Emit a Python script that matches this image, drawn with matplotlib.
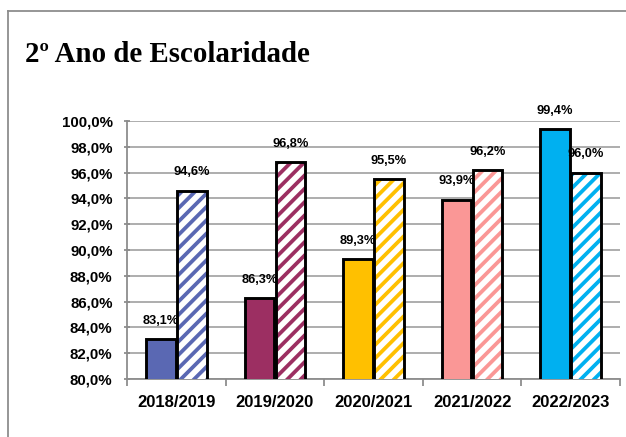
import matplotlib
matplotlib.use('Agg')
import matplotlib.pyplot as plt
import numpy as np
from matplotlib.ticker import FuncFormatter, FixedLocator
from matplotlib.lines import Line2D

years = ['2018/2019', '2019/2020', '2020/2021', '2021/2022', '2022/2023']
solid_vals = [83.1, 86.3, 89.3, 93.9, 99.4]
hatch_vals = [94.6, 96.8, 95.5, 96.2, 96.0]
colors = ['#5A68B3', '#9C2F62', '#FFC000', '#FA9796', '#00B0F0']

DPI = 80
plt.rcParams['font.family'] = ['Liberation Sans', 'DejaVu Sans']
plt.rcParams['hatch.linewidth'] = 3.4

fig = plt.figure(figsize=(626 / DPI, 437 / DPI), dpi=DPI)
ax = fig.add_axes([127 / 626, 1 - 379 / 437, (620 - 127) / 626, (379 - 121) / 437])

x = np.arange(len(years))
w = 0.30
off = 0.157

# solid bars
ax.bar(x - off, solid_vals, w, color=colors, edgecolor='black', linewidth=2.6, zorder=3)
# hatched bars: white fill + coloured stripes, then black outline on top
ax.bar(x + off, hatch_vals, w, color='white', edgecolor=colors, hatch='//', linewidth=0, zorder=3)
ax.bar(x + off, hatch_vals, w, fill=False, edgecolor='black', linewidth=2.6, zorder=4)

def pct(v):
    return f'{v:.1f}%'.replace('.', ',')

for xi, v in zip(x - off, solid_vals):
    ax.annotate(pct(v), (xi, v), xytext=(0, 11), textcoords='offset points',
                ha='center', va='bottom', fontsize=11.5, fontweight='bold', zorder=5)
for xi, v in zip(x + off, hatch_vals):
    ax.annotate(pct(v), (xi, v), xytext=(0, 11), textcoords='offset points',
                ha='center', va='bottom', fontsize=11.5, fontweight='bold', zorder=5)

ax.set_ylim(80, 100)
ax.set_xlim(-0.5, len(years) - 0.5)
ax.set_yticks(np.arange(80, 100.1, 2))
ax.yaxis.set_major_formatter(FuncFormatter(lambda v, p: pct(v)))
ax.grid(axis='y', color='#A6A6A6', linewidth=1.6, zorder=0)
ax.set_axisbelow(True)

ax.set_xticks(x)
ax.set_xticklabels(years, fontsize=15, fontweight='bold')
ax.xaxis.set_minor_locator(FixedLocator(np.arange(-0.5, len(years), 1)))
ax.tick_params(axis='x', which='major', length=0, pad=14)
ax.tick_params(axis='x', which='minor', length=6, width=1.6, color='#8C8C8C', direction='out')
ax.tick_params(axis='y', length=6, width=1.6, color='#8C8C8C', direction='inout', pad=10)
for lab in ax.get_yticklabels():
    lab.set_fontsize(13.5)
    lab.set_fontweight('bold')

for s in ['top', 'right']:
    ax.spines[s].set_visible(False)
for s in ['left', 'bottom']:
    ax.spines[s].set_color('#8C8C8C')
    ax.spines[s].set_linewidth(1.6)

# outer chart frame (left and top edges visible)
fig.add_artist(Line2D([8 / 626, 8 / 626], [0, 1 - 11 / 437], transform=fig.transFigure,
                      color='#8C8C8C', linewidth=1.6))
fig.add_artist(Line2D([8 / 626, 1], [1 - 11 / 437, 1 - 11 / 437], transform=fig.transFigure,
                      color='#8C8C8C', linewidth=1.6))

fig.text(25 / 626, 1 - 55 / 437, '2º Ano de Escolaridade', fontsize=26, fontweight='bold',
         family=['Liberation Serif', 'DejaVu Serif'], va='center', ha='left')

fig.savefig('out.png', dpi=DPI)
